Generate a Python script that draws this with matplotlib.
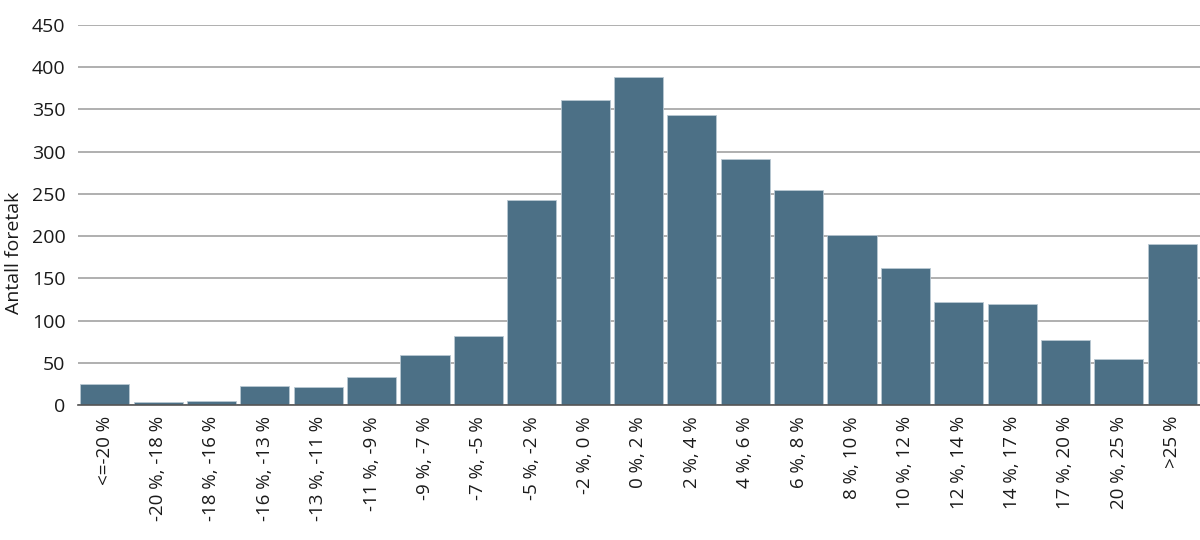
import matplotlib
matplotlib.use("Agg")
import matplotlib.pyplot as plt

categories = ["<=-20 %", "-20 %, -18 %", "-18 %, -16 %", "-16 %, -13 %", "-13 %, -11 %",
              "-11 %, -9 %", "-9 %, -7 %", "-7 %, -5 %", "-5 %, -2 %", "-2 %, 0 %",
              "0 %, 2 %", "2 %, 4 %", "4 %, 6 %", "6 %, 8 %", "8 %, 10 %",
              "10 %, 12 %", "12 %, 14 %", "14 %, 17 %", "17 %, 20 %", "20 %, 25 %", ">25 %"]
counts = [25, 4, 5, 22, 21, 33, 59, 82, 243, 361, 388, 343, 291, 255, 201,
          162, 122, 120, 77, 54, 191]
yticks = [0, 50, 100, 150, 200, 250, 300, 350, 400, 450]

plt.rcParams["font.family"] = ["Open Sans", "DejaVu Sans"]

fig = plt.figure(figsize=(12, 5.4), dpi=100)
ax = fig.add_axes([0.065, 0.25, 0.935, 0.704])

x = range(len(categories))
ax.bar(x, counts, width=0.92, color="#4c7086", edgecolor="#b9c8d2", linewidth=0.6, zorder=2)

ax.set_ylim(0, 450)
ax.set_xlim(-0.5, len(categories) - 0.48)
ax.set_yticks(yticks)
ax.set_yticklabels([str(t) for t in yticks], fontsize=14, color="#1a1a1a")
ax.set_xticks(list(x))
ax.set_xticklabels(categories, rotation=90, fontsize=13.5, color="#1a1a1a", va="top", ha="center")
ax.tick_params(axis="both", length=0)
ax.tick_params(axis="x", pad=8)
ax.tick_params(axis="y", pad=9)

ax.grid(axis="y", color="#9a9a9a", linewidth=1.1, zorder=0)
ax.set_axisbelow(True)
for side in ["top", "right", "left"]:
    ax.spines[side].set_visible(False)
ax.spines["bottom"].set_color("#555555")
ax.spines["bottom"].set_linewidth(1.2)
ax.spines["bottom"].set_zorder(3)

ax.set_ylabel("Antall foretak", fontsize=14, color="#1a1a1a", labelpad=6, y=0.40)

fig.savefig("out.png", dpi=100)
